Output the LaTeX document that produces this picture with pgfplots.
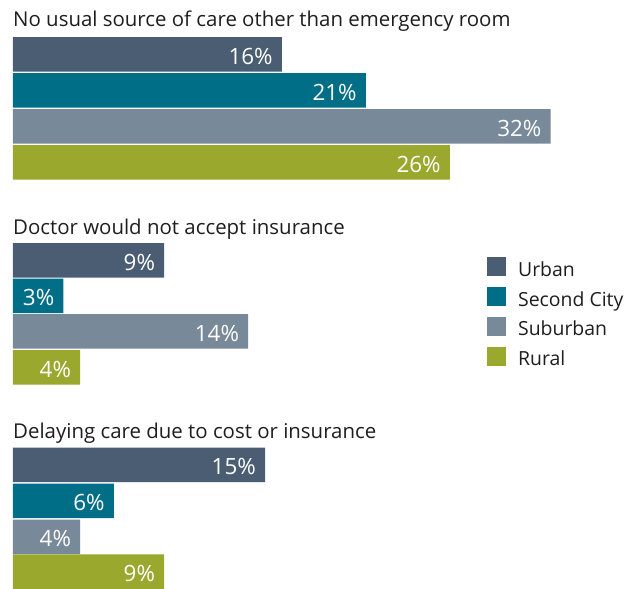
\documentclass[border=0pt]{standalone}
\usepackage{fontspec}
\setmainfont{Open Sans}
\usepackage{pgfplots}
\pgfplotsset{compat=1.18}
\definecolor{urban}{RGB}{74,93,115}
\definecolor{second}{RGB}{0,110,135}
\definecolor{suburb}{RGB}{120,137,153}
\definecolor{rural}{RGB}{154,168,46}
\definecolor{txt}{RGB}{30,30,30}
\pgfplotsset{sq/.style={legend image code/.code={\fill[#1] (0bp,0bp) rectangle (19bp,19bp); \path (31bp,0bp);}}}
\begin{document}
\begin{tikzpicture}
\begin{axis}[
  x=16.8bp, y=1bp, y dir=reverse,
  xmin=-0.7738, xmax=37.5, ymin=0, ymax=589,
  hide axis, clip=false,
  /pgf/number format/assume math mode=true,
  xbar, bar width=34.5, bar shift=0pt,
  point meta=x,
  nodes near coords={\pgfmathprintnumber{\pgfplotspointmeta}\%},
  every node near coord/.append style={anchor=east, xshift=-9bp, yshift=-1.5bp, inner sep=0pt, text=white, font=\fontsize{22.5}{22.5}\selectfont},
  legend cell align=left,
  legend style={draw=none, fill=none, inner sep=0pt, at={(axis cs:28.21,257.3)}, anchor=north west,
    font=\fontsize{19.5}{19.5}\selectfont, text=txt, row sep=6.7bp,
    nodes={inner sep=0pt, text height=4bp, text depth=4bp}},
]
\addplot[fill=urban, draw=none, sq=urban] coordinates {(16,54.5) (9,260.5) (15,465)};
\addplot[fill=second, draw=none, sq=second] coordinates {(21,90.5) (3,296) (6,501)};
\addplot[fill=suburb, draw=none, sq=suburb] coordinates {(32,126.5) (14,331.5) (4,537)};
\addplot[fill=rural, draw=none, sq=rural] coordinates {(26,162.5) (4,367.5) (9,571.75)};
\legend{Urban, Second City, Suburban, Rural}
\node[anchor=base west, inner sep=0pt, text=txt, font=\fontsize{20.5}{20.5}\selectfont] at (axis cs:0,27) {No usual source of care other than emergency room};
\node[anchor=base west, inner sep=0pt, text=txt, font=\fontsize{20.5}{20.5}\selectfont] at (axis cs:0,235) {Doctor would not accept insurance};
\node[anchor=base west, inner sep=0pt, text=txt, font=\fontsize{20.5}{20.5}\selectfont] at (axis cs:0,439) {Delaying care due to cost or insurance};
\path (axis cs:-0.7738,0) rectangle (axis cs:37.5,589);
\end{axis}
\end{tikzpicture}
\end{document}
